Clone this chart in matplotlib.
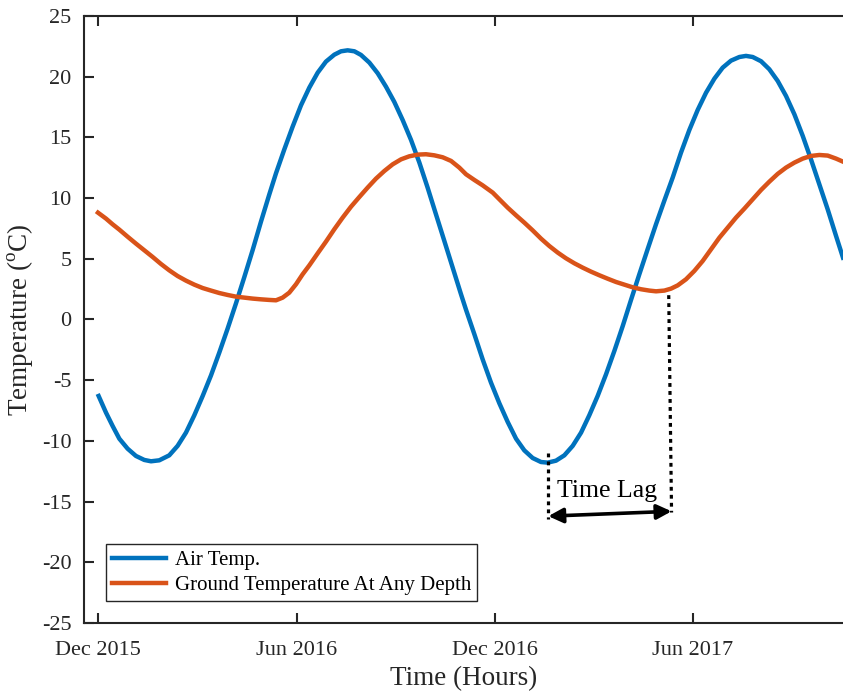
import numpy as np
import matplotlib
matplotlib.use("Agg")
import matplotlib.pyplot as plt
import matplotlib.dates as mdates

plt.rcParams['font.family'] = ['Liberation Serif', 'DejaVu Serif']
plt.rcParams['mathtext.fontset'] = 'custom'
plt.rcParams['mathtext.rm'] = 'Liberation Serif'
plt.rcParams['axes.unicode_minus'] = False

# days since 1 Dec 2015, temperature in deg C
air_days = [0.6, 7.4, 13.5, 19.7, 27.3, 35.0, 42.7, 48.9, 56.5, 65.7, 73.4, 81.1,
            88.8, 96.5, 104.2, 111.8, 119.5, 127.2, 134.9, 142.6, 150.2, 157.9,
            164.1, 171.7, 179.4, 187.1, 194.8, 202.5, 210.1, 217.8, 224.0, 230.1,
            236.3, 242.4, 250.1, 257.8, 265.4, 273.1, 280.8, 288.5, 296.2, 303.8,
            311.5, 319.2, 326.9, 334.6, 339.2, 346.9, 354.5, 362.2, 369.9, 377.6,
            385.3, 392.9, 400.6, 408.3, 414.4, 422.1, 429.8, 437.5, 445.2, 452.8,
            460.5, 468.2, 475.9, 483.6, 491.2, 498.9, 506.6, 514.3, 522.0, 529.7,
            537.3, 545.0, 552.7, 560.4, 568.1, 575.7, 583.4, 591.1, 597.2, 603.4,
            611.1, 618.7, 626.4, 634.1, 641.8, 649.5, 657.1, 664.8, 672.5, 680.2,
            686.6]
air_temp = [-6.30, -7.67, -8.77, -9.82, -10.64, -11.24, -11.57, -11.68, -11.60, -11.19,
            -10.41, -9.32, -7.89, -6.30, -4.60, -2.73, -0.75, 1.33, 3.50, 5.73,
            8.05, 10.30, 12.05, 14.0, 15.88, 17.64, 19.10, 20.33, 21.24, 21.81,
            22.09, 22.17, 22.09, 21.79, 21.16, 20.28, 19.18, 17.92, 16.43, 14.79,
            12.92, 10.86, 8.66, 6.47, 4.27, 2.07, 0.8, -1.22, -3.28, -5.20,
            -6.90, -8.44, -9.82, -10.78, -11.41, -11.74, -11.79, -11.63, -11.19, -10.41,
            -9.32, -7.89, -6.30, -4.52, -2.59, -0.54, 1.60, 3.72, 5.80, 7.85,
            9.80, 11.70, 13.74, 15.61, 17.26, 18.68, 19.84, 20.74, 21.32, 21.62,
            21.71, 21.62, 21.27, 20.61, 19.65, 18.41, 16.90, 15.12, 13.19, 11.13,
            9.07, 6.88, 5.09]

ground_days = [0.0, 7.4, 13.5, 19.7, 27.3, 35.0, 42.7, 50.4, 58.1, 65.7, 73.4, 81.1,
               88.8, 96.5, 104.2, 111.8, 119.5, 127.2, 134.9, 142.6, 150.2, 157.9,
               164.1, 170.2, 176.3, 182.5, 188.6, 194.8, 202.5, 210.1, 217.8, 225.5,
               233.2, 240.9, 248.5, 256.2, 263.9, 271.6, 279.3, 286.9, 294.6, 302.3,
               310.0, 317.7, 325.4, 333.0, 339.2, 346.9, 354.5, 363.8, 369.9, 377.6,
               385.3, 392.9, 400.6, 408.3, 416.0, 423.7, 431.3, 439.0, 446.7, 454.4,
               462.1, 469.7, 477.4, 485.1, 492.8, 500.5, 508.1, 514.3, 522.0, 528.1,
               534.3, 541.9, 549.6, 557.3, 565.0, 572.7, 580.3, 588.0, 595.7, 603.4,
               611.1, 618.7, 626.4, 634.1, 641.8, 649.5, 657.1, 664.8, 672.5, 680.2,
               686.6]
ground_temp = [8.80, 8.31, 7.84, 7.40, 6.82, 6.25, 5.70, 5.15, 4.57, 4.05, 3.58, 3.20,
               2.87, 2.59, 2.38, 2.18, 2.02, 1.88, 1.80, 1.72, 1.66, 1.61,
               1.58, 1.80, 2.21, 2.90, 3.72, 4.46, 5.45, 6.41, 7.43, 8.39,
               9.29, 10.09, 10.86, 11.60, 12.23, 12.78, 13.19, 13.44, 13.58, 13.61,
               13.52, 13.36, 13.06, 12.51, 11.96, 11.49, 11.05, 10.45, 9.90, 9.21,
               8.58, 7.98, 7.34, 6.66, 6.05, 5.51, 5.04, 4.63, 4.27, 3.94,
               3.64, 3.36, 3.09, 2.87, 2.65, 2.49, 2.38, 2.32, 2.38, 2.54,
               2.81, 3.31, 4.00, 4.82, 5.78, 6.74, 7.56, 8.39, 9.13, 9.90,
               10.67, 11.35, 11.99, 12.51, 12.92, 13.25, 13.47, 13.55, 13.50, 13.25,
               13.00]

start = np.datetime64('2015-12-01T00:00')


def to_dates(days):
    return start + (np.array(days) * 24 * 60).astype('timedelta64[m]')


def to_num(day):
    return mdates.date2num(to_dates([day])[0])


fig = plt.figure(figsize=(8.43, 6.94), dpi=100)
ax = fig.add_axes([0.0996, 0.1023, 0.9004, 0.8747])

ax.plot(to_dates(air_days), air_temp, color='#0072BD', lw=3.2, label='Air Temp.')
ax.plot(to_dates(ground_days), ground_temp, color='#D95319', lw=3.2,
        label='Ground Temperature At Any Depth')

# time lag markers between the air minimum and the ground minimum
lag_start, lag_end = 415.0, 528.6
ax.plot(to_dates([lag_start, lag_start]), [-11.0, -16.4], color='k', lw=2.3,
        linestyle=(0, (1.2, 1.3)))
ax.plot(to_dates([526.0, lag_end]), [2.0, -15.9], color='k', lw=2.3,
        linestyle=(0, (1.2, 1.3)))
ax.annotate('', xy=(to_num(lag_end), -15.8), xytext=(to_num(lag_start), -16.2),
            arrowprops=dict(arrowstyle='<|-|>', color='k', lw=2.6,
                            mutation_scale=22, shrinkA=0, shrinkB=0))
ax.text(to_num(469.5), -14.1, 'Time Lag', fontsize=18.5, ha='center', va='center')

ax.set_xlim(to_dates([-12.9])[0], to_dates([686.6])[0])
ax.set_ylim(-25, 25)
ax.set_yticks(np.arange(-25, 26, 5))
ax.xaxis.set_major_locator(mdates.MonthLocator(bymonth=[6, 12]))
ax.xaxis.set_major_formatter(mdates.DateFormatter('%b %Y'))

for s in ['left', 'bottom', 'top']:
    ax.spines[s].set_linewidth(1.5)
    ax.spines[s].set_color('#262626')
ax.spines['right'].set_visible(False)
ax.tick_params(axis='both', direction='in', length=7, width=1.5,
               color='#262626', labelsize=16, labelcolor='#262626')
ax.tick_params(axis='x', top=True, pad=13)
ax.tick_params(axis='y', pad=9)

ax.set_xlabel('Time (Hours)', fontsize=19.5, color='#262626', labelpad=4)
ax.set_ylabel('Temperature ($^{\\mathrm{o}}$C)', fontsize=19.5, color='#262626',
              labelpad=5)

leg = ax.legend(loc='lower left', bbox_to_anchor=(0.029, 0.036), fontsize=15,
                handlelength=2.6, handletextpad=0.4, borderpad=0.3,
                labelspacing=0.25, fancybox=False, framealpha=1,
                edgecolor='#262626', borderaxespad=0)
leg.get_frame().set_linewidth(1.0)

fig.savefig('out.png', dpi=100)
